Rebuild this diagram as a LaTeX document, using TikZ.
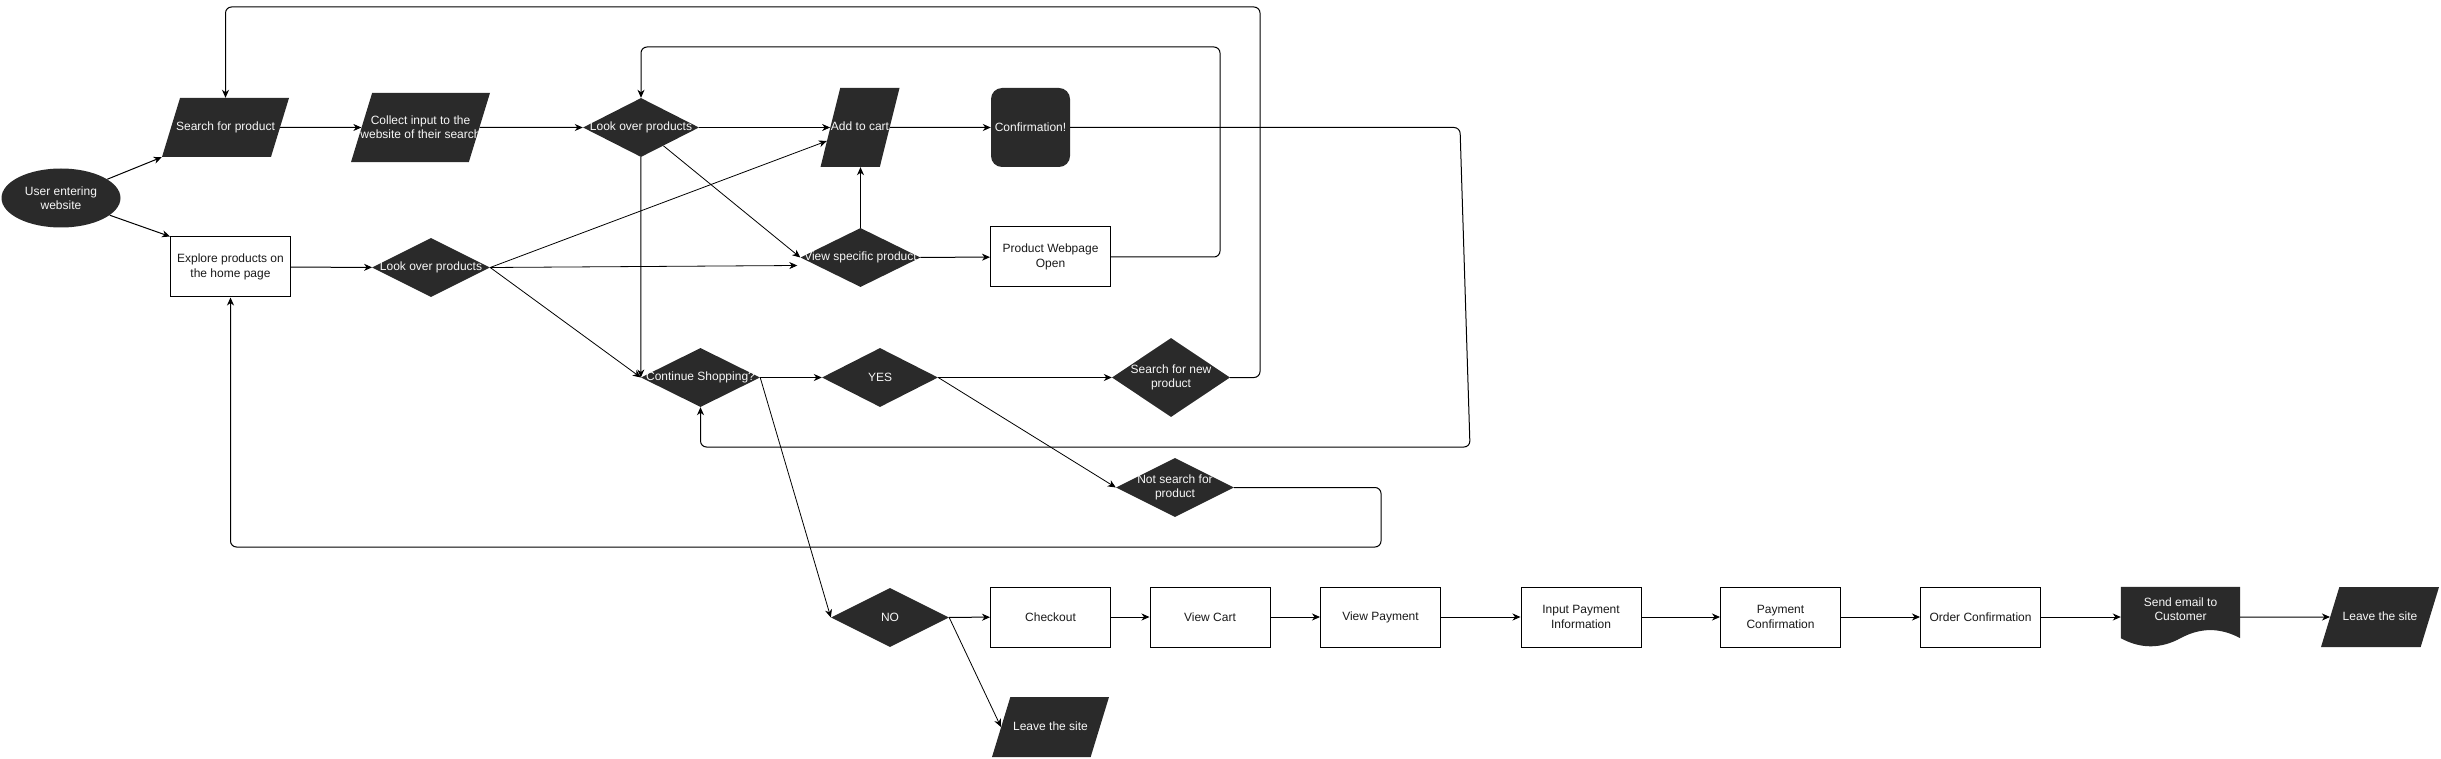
\documentclass[tikz,border=0pt]{standalone}
\usepackage{fontspec}
\setmainfont{Liberation Sans}
\usetikzlibrary{arrows.meta,shapes.geometric,calc,backgrounds}
\definecolor{ink}{HTML}{1A1A1A}
\definecolor{darkC}{HTML}{2A2A2A}
\definecolor{paleC}{HTML}{F7F7F7}
\tikzset{
  >={Stealth[length=8pt,width=7pt,inset=2.5pt]},
  txt/.style={font=\fontsize{12}{14.4}\selectfont,align=center},
  proc/.style={txt,draw=black,line width=1pt,fill=white,text=ink,minimum width=120pt,
    minimum height=60pt,inner sep=1pt},
  decide/.style={txt,diamond,aspect=2,fill=darkC,text=paleC,minimum width=118pt,
    minimum height=59pt,inner xsep=-12pt,inner ysep=-4pt},
  io/.style={txt,trapezium,trapezium left angle=73,trapezium right angle=107,
    trapezium stretches body,fill=darkC,text=paleC,inner xsep=-12pt},
  oneline/.style={text height=9pt,text depth=3pt},
  startC/.style={txt,ellipse,fill=darkC,text=paleC,minimum width=119pt,minimum height=59pt,inner sep=0pt},
  term/.style={txt,rectangle,rounded corners=11pt,fill=darkC,text=paleC,minimum width=79pt,minimum height=79pt},
  docu/.style={txt,rectangle,text=paleC,minimum width=119pt,minimum height=44pt,inner sep=0pt},
  flow/.style={->,draw=black,line width=1pt},
  flowthin/.style={->,draw=black,line width=0.8pt},
}

\begin{document}
\begin{tikzpicture}[x=1pt,y=-1pt]
\useasboundingbox (0,0) rectangle (2441,759);

% ---------- entry and search row ----------
\node[startC] (user) at (61,198) {User entering\\website};
\node[io,oneline,minimum width=127pt,inner ysep=23.5pt] (search) at (225.5,127.5) {Search for product};
\node[io,minimum width=139pt,inner ysep=23pt] (collect) at (420.5,127.5) {Collect input to the\\website of their search};
\node[decide,minimum width=116pt] (lookT) at (641,127.5) {Look over products};
\node[io,oneline,trapezium left angle=76,trapezium right angle=104,minimum width=79pt,inner ysep=33.5pt] (cart) at (860,127.5) {Add to cart};
\node[term] (conf) at (1030.5,127.5) {Confirmation!};

% ---------- browse row ----------
\node[proc] (explore) at (230.5,267) {Explore products on\\the home page};
\node[decide] (lookB) at (431,267.5) {Look over products};
\node[decide,minimum width=120pt] (vsp) at (860.5,257.5) {View specific product};
\node[proc] (pwo) at (1050.5,257) {Product Webpage\\Open};

% ---------- decisions ----------
\node[decide,minimum width=119pt] (cs) at (700.5,377.5) {Continue Shopping?};
\node[decide,minimum width=116pt] (yes) at (880,377.5) {YES};
\node[decide,minimum height=79pt] (sfn) at (1171,377.5) {Search for new\\product};
\node[decide] (nsp) at (1175,487.5) {Not search for\\product};
\node[decide] (no) at (890,617.5) {NO};
\node[io,oneline,minimum width=117pt,inner ysep=24pt] (leaveA) at (1050.5,727) {Leave the site};

% ---------- checkout row ----------
\node[proc] (checkout) at (1050.5,617) {Checkout};
\node[proc] (viewcart) at (1210,617) {View Cart};
\node[proc] (viewpay) at (1380.5,617) {View Payment};
\node[proc] (inpay) at (1581,617) {Input Payment\\Information};
\node[proc] (paycon) at (1780.5,617) {Payment\\Confirmation};
\node[proc] (ordcon) at (1980.5,617) {Order Confirmation};
\node[docu] (email) at (2180.5,609) {Send email to\\Customer};
\node[io,oneline,minimum width=118pt,inner ysep=24pt] (leaveB) at (2380,617) {Leave the site};
\begin{scope}[on background layer]
\fill[darkC] (email.north west) -- (email.north east) -- ($(email.south east)+(0,7)$)
  .. controls ($(email.south east)+(-19.8,-3.8)$) and ($(email.south)+(19.8,-3.8)$) .. ($(email.south)+(0,7)$)
  .. controls ($(email.south)+(-19.8,17.8)$) and ($(email.south west)+(19.8,17.8)$) .. ($(email.south west)+(0,7)$) -- cycle;
\end{scope}

% ---------- bends of the loops ----------
\coordinate (inR) at (1220,47);
\coordinate (outR) at (1260,7);
\coordinate (confA) at (1460,127.5);
\coordinate (confB) at (1470,447);
\coordinate (nspR) at (1381,547);

% ---------- connectors ----------
\draw[flow] (user) -- (search.bottom left corner);
\draw[flow] (user) -- (explore.north west);
\draw[flow] (search) -- (collect);
\draw[flow] (collect) -- (lookT);
\draw[flow] (lookT) -- (cart);
\draw[flow] (cart) -- (conf);
\draw[flow] (explore) -- (lookB);
\draw[flowthin] (lookT) -- (vsp.west);
\draw[flow] (lookT) -- (cs.west);
\draw[flowthin] (lookB.east) -- ($(cart.top left corner)!0.67!(cart.bottom left corner)$);
\draw[flowthin] (lookB.east) -- ($(vsp.west)+(-3,8)$);
\draw[flowthin] (lookB.east) -- (cs.west);
\draw[flow] (vsp.north) -- (vsp.north |- cart.bottom side);
\draw[flow] (vsp) -- (pwo);
\draw[flow,rounded corners=6pt] (pwo.east) -| (inR) -| (lookT.north);
\draw[flow,rounded corners=6pt] (sfn.east) -| (outR) -| (search.north);
\draw[flow,rounded corners=6pt] (conf.east) -- (confA) -- (confB) -- (confB -| cs.south) -- (cs.south);
\draw[flow,rounded corners=6pt] (nsp.east) -| (nspR) -| (explore.south);
\draw[flow] (cs) -- (yes);
\draw[flowthin] (cs.east) -- (no.west);
\draw[flow] (yes) -- (sfn);
\draw[flowthin] (yes.east) -- (nsp.west);
\draw[flow] (no) -- (checkout);
\draw[flowthin] (no.east) -- (leaveA.left side);
\draw[flow] (checkout) -- (viewcart);
\draw[flow] (viewcart) -- (viewpay);
\draw[flow] (viewpay) -- (inpay);
\draw[flow] (inpay) -- (paycon);
\draw[flow] (paycon) -- (ordcon);
\draw[flow] (ordcon.east) -- (ordcon.east -| email.west);
\draw[flow] (email.east |- leaveB) -- (leaveB);

\end{tikzpicture}
\end{document}
